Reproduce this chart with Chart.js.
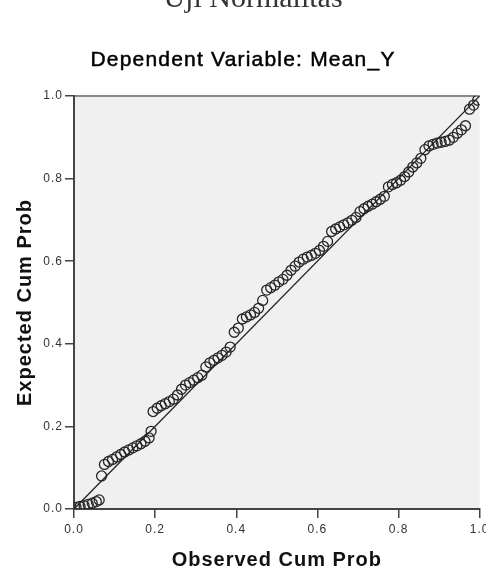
<!DOCTYPE html>
<html lang="en">
<head>
    <meta charset="UTF-8">
    <title>Uji Normalitas</title>
    <script src="https://cdn.jsdelivr.net/npm/chart.js"></script>
    <style>
        body {
            margin: 0;
            background-color: #ffffff;
        }

        .chart-box {
            position: relative;
            width: 486px;
            height: 576px;
        }
    </style>
</head>
<body>
    <div class="chart-box">
        <canvas id="ppChart"></canvas>
    </div>

    <script>
        // Normal P-P plot values
        const observedCum = [
            0.005, 0.015, 0.025, 0.035, 0.045, 0.055, 0.062, 0.068, 0.075, 0.085,
            0.095, 0.105, 0.115, 0.125, 0.135, 0.145, 0.155, 0.165, 0.175, 0.185,
            0.19, 0.195, 0.205, 0.215, 0.225, 0.235, 0.245, 0.255, 0.265, 0.275,
            0.285, 0.295, 0.305, 0.315, 0.325, 0.335, 0.345, 0.355, 0.365, 0.375,
            0.385, 0.395, 0.405, 0.415, 0.425, 0.435, 0.445, 0.455, 0.465, 0.475,
            0.485, 0.495, 0.505, 0.515, 0.525, 0.535, 0.545, 0.555, 0.565, 0.575,
            0.585, 0.595, 0.605, 0.615, 0.625, 0.635, 0.645, 0.655, 0.665, 0.675,
            0.685, 0.695, 0.705, 0.715, 0.725, 0.735, 0.745, 0.755, 0.765, 0.775,
            0.785, 0.795, 0.805, 0.815, 0.825, 0.835, 0.845, 0.855, 0.865, 0.875,
            0.885, 0.895, 0.905, 0.915, 0.925, 0.935, 0.945, 0.955, 0.965, 0.975,
            0.985, 0.995
        ];
        const expectedCum = [
            0.004, 0.006, 0.008, 0.011, 0.014, 0.018, 0.022, 0.080, 0.108, 0.115,
            0.120, 0.126, 0.132, 0.138, 0.143, 0.148, 0.153, 0.158, 0.164, 0.172,
            0.188, 0.236, 0.244, 0.250, 0.255, 0.260, 0.266, 0.276, 0.290, 0.300,
            0.306, 0.312, 0.318, 0.324, 0.344, 0.354, 0.360, 0.366, 0.372, 0.380,
            0.392, 0.428, 0.438, 0.460, 0.465, 0.470, 0.476, 0.486, 0.505, 0.530,
            0.536, 0.542, 0.550, 0.556, 0.566, 0.578, 0.588, 0.598, 0.605, 0.610,
            0.614, 0.619, 0.626, 0.636, 0.648, 0.672, 0.678, 0.683, 0.688, 0.693,
            0.699, 0.706, 0.720, 0.727, 0.733, 0.738, 0.744, 0.750, 0.757, 0.780,
            0.786, 0.790, 0.796, 0.805, 0.816, 0.828, 0.838, 0.849, 0.870, 0.879,
            0.883, 0.886, 0.888, 0.890, 0.893, 0.900, 0.910, 0.918, 0.928, 0.968,
            0.978, 0.990
        ];
        // diagonal reference line ends
        const refLine = [0, 1];

        const xTickLabels = ['0.0', '0.2', '0.4', '0.6', '0.8', '1.0'];
        const yTickLabels = ['0.0', '0.2', '0.4', '0.6', '0.8', '1.0'];

        const mainTitle = 'Uji Normalitas';
        const subTitle = 'Dependent Variable: Mean_Y';

        const points = observedCum.map((x, i) => ({ x: x, y: expectedCum[i] }));
        const linePoints = refLine.map(v => ({ x: v, y: v }));

        // grey plot background, top border and the header texts
        const frame = {
            id: 'frame',
            beforeDraw(chart) {
                const { ctx, chartArea: a } = chart;
                ctx.letterSpacing = '1px';
                ctx.save();
                ctx.fillStyle = '#f0f0f0';
                ctx.fillRect(a.left, a.top, a.right - a.left, a.bottom - a.top);
                ctx.strokeStyle = '#8a8a8a';
                ctx.lineWidth = 2;
                ctx.beginPath();
                ctx.moveTo(a.left, a.top);
                ctx.lineTo(a.right, a.top);
                ctx.stroke();
                ctx.restore();
            },
            afterDraw(chart) {
                const ctx = chart.ctx;
                ctx.save();
                ctx.textAlign = 'center';
                ctx.textBaseline = 'alphabetic';
                ctx.letterSpacing = '0px';
                ctx.fillStyle = '#333';
                ctx.font = '30px "Liberation Serif"';
                ctx.fillText(mainTitle, 253, 7);
                ctx.letterSpacing = '1.2px';
                ctx.fillStyle = '#000';
                ctx.strokeStyle = '#000';
                ctx.lineWidth = 0.5;
                ctx.font = '21px "Liberation Sans"';
                ctx.fillText(subTitle, 243, 66);
                ctx.strokeText(subTitle, 243, 66);
                ctx.restore();
            }
        };

        const ppCtx = document.getElementById('ppChart').getContext('2d');

        const ppChart = new Chart(ppCtx, {
            type: 'scatter',
            data: {
                datasets: [{
                    label: 'Reference',
                    type: 'line',
                    data: linePoints,
                    borderColor: '#222',
                    borderWidth: 1.3,
                    pointRadius: 0,
                    fill: false
                }, {
                    label: 'Mean_Y',
                    data: points,
                    pointStyle: 'circle',
                    pointRadius: 5,
                    borderWidth: 1.3,
                    borderColor: '#262626',
                    backgroundColor: 'rgba(0, 0, 0, 0)'
                }]
            },
            options: {
                responsive: true,
                maintainAspectRatio: false,
                animation: false,
                layout: {
                    padding: { top: 96, right: 0, bottom: 0, left: 0 }
                },
                plugins: {
                    legend: { display: false },
                    tooltip: { enabled: false }
                },
                scales: {
                    x: {
                        type: 'linear',
                        min: 0,
                        max: 1,
                        afterFit(s) {
                            s.height = 67;
                            s.paddingLeft = 0;
                            s.paddingRight = 0;
                        },
                        ticks: {
                            stepSize: 0.2,
                            padding: 4,
                            color: '#333',
                            font: { family: 'Liberation Sans', size: 12 },
                            maxRotation: 0,
                            callback: (v, i) => xTickLabels[i]
                        },
                        grid: {
                            drawOnChartArea: false,
                            drawTicks: true,
                            tickLength: 9,
                            color: '#444',
                            lineWidth: 1.5
                        },
                        border: { display: true, color: '#444', width: 2 },
                        title: {
                            display: true,
                            text: 'Observed Cum Prob',
                            color: '#111',
                            font: { family: 'Liberation Sans', size: 20, weight: 'bold' },
                            padding: { top: 0, bottom: 4 }
                        }
                    },
                    y: {
                        type: 'linear',
                        min: 0,
                        max: 1,
                        afterFit(s) {
                            s.width = 74;
                            s.paddingTop = 0;
                            s.paddingBottom = 0;
                        },
                        ticks: {
                            stepSize: 0.2,
                            padding: 2,
                            color: '#333',
                            font: { family: 'Liberation Sans', size: 12 },
                            callback: (v, i) => yTickLabels[i]
                        },
                        grid: {
                            drawOnChartArea: false,
                            drawTicks: true,
                            tickLength: 9,
                            color: '#444',
                            lineWidth: 1.5
                        },
                        border: { display: true, color: '#444', width: 2 },
                        title: {
                            display: true,
                            text: 'Expected Cum Prob',
                            color: '#111',
                            font: { family: 'Liberation Sans', size: 20, weight: 'bold' },
                            padding: { top: 13, bottom: 0 }
                        }
                    }
                }
            },
            plugins: [frame]
        });
    </script>
</body>
</html>
